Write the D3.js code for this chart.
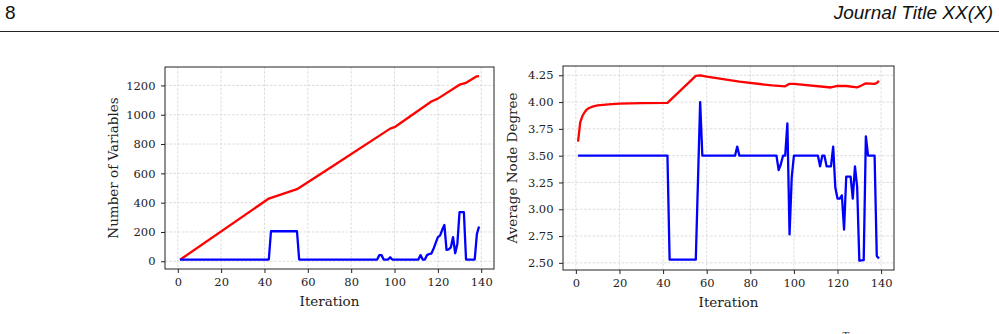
<!DOCTYPE html>
<html>
<head>
<meta charset="utf-8">
<script src="https://cdn.jsdelivr.net/npm/d3@7"></script>
<style>
  body { margin: 0; background: #fff; }
  svg { display: block; }
  .tick text { font-family: "DejaVu Serif", serif; }
</style>
</head>
<body>
<script>
// tick labels
const iterTicks = [0, 20, 40, 60, 80, 100, 120, 140];
const varTicks = [0, 200, 400, 600, 800, 1000, 1200];
const degreeTicks = [2.50, 2.75, 3.00, 3.25, 3.50, 3.75, 4.00, 4.25];

// number of variables, red series (vertices)
const varsRedIter = [1, 42, 55, 70, 98, 100, 117, 120, 130, 133, 138, 139];
const varsRedVal = [10, 428, 492, 635, 905, 915, 1090, 1110, 1205, 1218, 1262, 1263];

// number of variables, blue series
const varsBlueIter = [1, 42, 43, 55, 56, 92, 93, 94, 95, 97, 98, 99, 111, 112, 113, 114, 115, 116, 117, 118, 119, 120,
    121, 122, 123, 124, 125, 126, 127, 128, 129, 130, 132, 133, 137, 138, 139];
const varsBlueVal = [12, 12, 205, 205, 12, 12, 42, 42, 12, 12, 27, 12, 12, 42, 12, 12, 42, 50, 53, 85, 125, 165,
    175, 215, 248, 78, 82, 95, 165, 55, 120, 335, 335, 12, 12, 185, 237];

// average node degree, red series
const degRedIter = [1, 2, 3, 4, 5, 6, 8, 10, 15, 20, 30, 42, 55, 57, 60, 75, 90, 96, 98, 100, 117, 120, 124, 129, 131, 133, 137, 138, 139];
const degRedVal = [3.63, 3.81, 3.87, 3.905, 3.93, 3.945, 3.96, 3.97, 3.978, 3.985, 3.99, 3.992, 4.245, 4.25, 4.238, 4.19,
    4.155, 4.147, 4.17, 4.17, 4.136, 4.15, 4.15, 4.137, 4.155, 4.175, 4.17, 4.178, 4.198];

// average node degree, blue series
const degBlueIter = [1, 42, 43, 55, 57, 58, 73, 74, 75, 92, 93, 94, 95, 96, 97, 98, 99, 100, 111, 112, 113, 114, 115, 117,
    118, 119, 120, 121, 122, 123, 124, 126, 127, 128, 129, 130, 132, 133, 134, 137, 138, 139];
const degBlueVal = [3.5, 3.5, 2.53, 2.53, 4.0, 3.5, 3.5, 3.585, 3.5, 3.5, 3.365, 3.42, 3.5, 3.5, 3.8, 2.765, 3.3, 3.5, 3.5, 3.4,
    3.5, 3.5, 3.4, 3.4, 3.585, 3.2, 3.1, 3.1, 3.13, 2.81, 3.305, 3.305, 3.1, 3.4, 3.21, 2.52, 2.525, 3.68, 3.5, 3.5, 2.565, 2.54];

const toPoints = (xs, ys) => xs.map((x, i) => ({ x: x, y: ys[i] }));

class IterationPanel {
    constructor({ svg, left, top, width, height, yTicks, yFormat, yLabel, series }) {
        this.svg = svg;
        this.left = left;
        this.top = top;
        this.width = width;
        this.height = height;
        this.yTicks = yTicks;
        this.yFormat = yFormat;
        this.yLabel = yLabel;
        this.series = series;
    }

    // matplotlib style 5% margins around the data
    _padded(vals) {
        const [lo, hi] = d3.extent(vals);
        const m = (hi - lo) * 0.05;
        return [lo - m, hi + m];
    }

    draw() {
        const allX = this.series.flatMap(s => s.points.map(p => p.x));
        const allY = this.series.flatMap(s => s.points.map(p => p.y));
        this.x = d3.scaleLinear().domain(this._padded(allX)).range([0, this.width]);
        this.y = d3.scaleLinear().domain(this._padded(allY)).range([this.height, 0]);

        const g = this.svg.append("g")
            .attr("transform", "translate(" + this.left + "," + this.top + ")");
        this._drawGrid(g);
        this._drawLines(g);
        this._drawAxes(g);
    }

    _drawGrid(g) {
        const grid = g.append("g").attr("class", "grid")
            .style("stroke", "#d4d4d4")
            .style("stroke-width", "0.8px")
            .style("stroke-dasharray", "2.6,1.6");
        grid.selectAll(".gx").data(iterTicks).enter().append("line")
            .attr("x1", d => this.x(d)).attr("x2", d => this.x(d))
            .attr("y1", 0).attr("y2", this.height);
        grid.selectAll(".gy").data(this.yTicks).enter().append("line")
            .attr("y1", d => this.y(d)).attr("y2", d => this.y(d))
            .attr("x1", 0).attr("x2", this.width);
    }

    _drawLines(g) {
        const line = d3.line()
            .x(d => this.x(d.x))
            .y(d => this.y(d.y))
            .curve(d3.curveLinear);
        g.selectAll(".series").data(this.series).enter().append("path")
            .attr("class", "series")
            .attr("d", d => line(d.points))
            .style("fill", "none")
            .style("stroke", d => d.color)
            .style("stroke-width", "2.3px")
            .style("stroke-linejoin", "round");
    }

    _drawAxes(g) {
        const xAxis = d3.axisBottom(this.x).tickValues(iterTicks).tickSize(4).tickPadding(5).tickSizeOuter(0);
        const yAxis = d3.axisLeft(this.y).tickValues(this.yTicks).tickFormat(this.yFormat)
            .tickSize(4).tickPadding(5.5).tickSizeOuter(0);

        const gx = g.append("g").attr("transform", "translate(0," + this.height + ")").call(xAxis);
        const gy = g.append("g").call(yAxis);
        [gx, gy].forEach(a => {
            a.select(".domain").remove();
            a.selectAll(".tick line").style("stroke", "#222").style("stroke-width", "1px");
            a.selectAll(".tick text").style("fill", "#222").style("font-size", "11.5px");
        });

        g.append("rect")
            .attr("width", this.width).attr("height", this.height)
            .style("fill", "none").style("stroke", "#222").style("stroke-width", "1px");

        g.append("text")
            .attr("x", this.width / 2).attr("y", this.height + 37)
            .attr("text-anchor", "middle")
            .style("font-family", "DejaVu Serif, serif").style("font-size", "13.5px").style("fill", "#222")
            .text("Iteration");

        g.append("text")
            .attr("transform", "translate(" + this.yLabelX + "," + (this.height / 2) + ") rotate(-90)")
            .attr("text-anchor", "middle")
            .style("font-family", "DejaVu Serif, serif").style("font-size", "13.5px").style("fill", "#222")
            .text(this.yLabel);
    }
}

const svg = d3.select("body").append("svg")
    .attr("width", 999).attr("height", 334);

// page header
svg.append("text").attr("x", 5).attr("y", 19)
    .style("font-family", "Liberation Sans, Arial, sans-serif").style("font-size", "19px").style("fill", "#111")
    .text("8");
svg.append("text").attr("x", 993).attr("y", 19).attr("text-anchor", "end")
    .style("font-family", "Liberation Sans, Arial, sans-serif").style("font-size", "19px")
    .style("font-style", "italic").style("fill", "#111")
    .text("Journal Title XX(X)");
svg.append("line").attr("x1", 0).attr("x2", 999).attr("y1", 31.5).attr("y2", 31.5)
    .style("stroke", "#222").style("stroke-width", "1px");

const leftPanel = new IterationPanel({
    svg: svg, left: 165, top: 67, width: 329, height: 202,
    yTicks: varTicks, yFormat: d3.format("d"), yLabel: "Number of Variables",
    series: [
        { color: "#ff0000", points: toPoints(varsRedIter, varsRedVal) },
        { color: "#0000ff", points: toPoints(varsBlueIter, varsBlueVal) }
    ]
});
leftPanel.yLabelX = -47;
leftPanel.draw();

const rightPanel = new IterationPanel({
    svg: svg, left: 563, top: 66, width: 331, height: 204,
    yTicks: degreeTicks, yFormat: d3.format(".2f"), yLabel: "Average Node Degree",
    series: [
        { color: "#ff0000", points: toPoints(degRedIter, degRedVal) },
        { color: "#0000ff", points: toPoints(degBlueIter, degBlueVal) }
    ]
});
rightPanel.yLabelX = -46;
rightPanel.draw();

// caption below is cut off by the page edge in the original, only the top of a superscript T shows
svg.append("text").attr("x", 842).attr("y", 339)
    .style("font-family", "DejaVu Serif, serif").style("font-size", "10px").style("font-style", "italic").style("fill", "#222")
    .text("T");
</script>
</body>
</html>
